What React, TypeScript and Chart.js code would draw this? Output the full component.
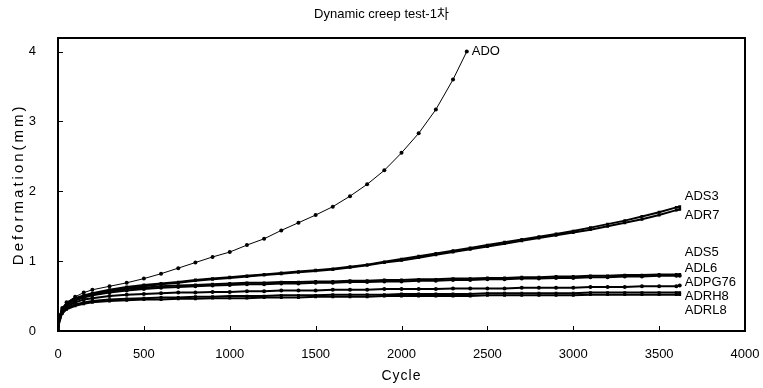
import React, { useEffect, useRef } from "react";
import { Chart, registerables } from "chart.js";

Chart.register(...registerables);

const FONT = '"Liberation Sans", Arial, "Noto Sans CJK KR", sans-serif';

const cycles = [0, 10, 25, 50, 100, 150, 200, 300, 400, 500, 600, 700, 800, 900, 1000, 1100, 1200, 1300, 1400, 1500, 1600, 1700, 1800, 1900, 2000, 2100, 2200, 2300, 2400, 2500, 2600, 2700, 2800, 2900, 3000, 3100, 3200, 3300, 3400, 3500, 3600, 3620];
const adoCycles = [0, 10, 25, 50, 100, 150, 200, 300, 400, 500, 600, 700, 800, 900, 1000, 1100, 1200, 1300, 1400, 1500, 1600, 1700, 1800, 1900, 2000, 2100, 2200, 2300, 2380];

const ADO = [0, 0.22, 0.33, 0.41, 0.49, 0.55, 0.59, 0.64, 0.69, 0.75, 0.82, 0.9, 0.98, 1.06, 1.13, 1.23, 1.32, 1.44, 1.55, 1.66, 1.78, 1.93, 2.1, 2.3, 2.55, 2.83, 3.17, 3.6, 4.0];
const ADS3 = [0, 0.22, 0.32, 0.4, 0.47, 0.51, 0.54, 0.59, 0.63, 0.66, 0.68, 0.7, 0.73, 0.75, 0.77, 0.79, 0.81, 0.83, 0.85, 0.87, 0.89, 0.92, 0.95, 0.99, 1.03, 1.07, 1.11, 1.15, 1.19, 1.23, 1.27, 1.31, 1.35, 1.39, 1.43, 1.48, 1.53, 1.58, 1.64, 1.7, 1.77, 1.78];
const ADR7 = [0, 0.2, 0.3, 0.38, 0.45, 0.49, 0.52, 0.57, 0.61, 0.64, 0.67, 0.69, 0.72, 0.74, 0.76, 0.78, 0.8, 0.82, 0.84, 0.86, 0.88, 0.91, 0.94, 0.98, 1.01, 1.05, 1.09, 1.13, 1.17, 1.21, 1.25, 1.29, 1.33, 1.37, 1.41, 1.45, 1.5, 1.55, 1.6, 1.66, 1.73, 1.74];
const ADS5 = [0, 0.21, 0.31, 0.39, 0.46, 0.5, 0.53, 0.57, 0.6, 0.62, 0.64, 0.65, 0.66, 0.67, 0.68, 0.69, 0.69, 0.7, 0.7, 0.71, 0.71, 0.72, 0.72, 0.73, 0.73, 0.74, 0.74, 0.75, 0.75, 0.76, 0.76, 0.77, 0.77, 0.78, 0.78, 0.79, 0.79, 0.8, 0.8, 0.81, 0.81, 0.81];
const ADL6 = [0, 0.2, 0.3, 0.37, 0.44, 0.48, 0.51, 0.55, 0.58, 0.6, 0.62, 0.63, 0.64, 0.65, 0.66, 0.67, 0.67, 0.68, 0.68, 0.69, 0.69, 0.7, 0.7, 0.71, 0.71, 0.72, 0.72, 0.73, 0.73, 0.74, 0.74, 0.75, 0.75, 0.76, 0.76, 0.77, 0.77, 0.78, 0.78, 0.79, 0.79, 0.79];
const ADPG76 = [0, 0.19, 0.28, 0.35, 0.41, 0.45, 0.47, 0.5, 0.52, 0.53, 0.54, 0.55, 0.55, 0.56, 0.56, 0.57, 0.57, 0.58, 0.58, 0.58, 0.59, 0.59, 0.59, 0.6, 0.6, 0.6, 0.6, 0.61, 0.61, 0.61, 0.61, 0.62, 0.62, 0.62, 0.62, 0.63, 0.63, 0.63, 0.64, 0.64, 0.64, 0.65];
const ADRH8 = [0, 0.18, 0.27, 0.33, 0.38, 0.41, 0.43, 0.45, 0.46, 0.47, 0.48, 0.48, 0.49, 0.49, 0.5, 0.5, 0.5, 0.51, 0.51, 0.51, 0.52, 0.52, 0.52, 0.52, 0.53, 0.53, 0.53, 0.53, 0.53, 0.54, 0.54, 0.54, 0.54, 0.54, 0.54, 0.55, 0.55, 0.55, 0.55, 0.55, 0.55, 0.55];
const ADRL8 = [0, 0.17, 0.25, 0.31, 0.36, 0.39, 0.41, 0.43, 0.44, 0.45, 0.45, 0.46, 0.46, 0.47, 0.47, 0.47, 0.48, 0.48, 0.48, 0.49, 0.49, 0.49, 0.49, 0.5, 0.5, 0.5, 0.5, 0.5, 0.5, 0.51, 0.51, 0.51, 0.51, 0.51, 0.51, 0.52, 0.52, 0.52, 0.52, 0.52, 0.52, 0.52];

const seriesNames = ["ADO", "ADS3", "ADR7", "ADS5", "ADL6", "ADPG76", "ADRH8", "ADRL8"];
const seriesValues = [ADO, ADS3, ADR7, ADS5, ADL6, ADPG76, ADRH8, ADRL8];
const seriesStyles = ["circle", "rect", "rect", "rect", "circle", "circle", "rect", "rect"];
// vertical anchor (in mm) of each end label
const labelValues = [4.0, 1.92, 1.65, 1.13, 0.9, 0.69, 0.5, 0.3];

const xTicks = [0, 500, 1000, 1500, 2000, 2500, 3000, 3500, 4000];
const yTicks = [0, 1, 2, 3, 4];

const chartTitle = "Dynamic creep test-1차";
const xTitle = "Cycle";
const yTitle = "Deformation(mm)";

const framePlugin = {
  id: "frameAndLabels",
  afterDraw(chart: any) {
    const ctx = chart.ctx;
    const a = chart.chartArea;
    const sx = chart.scales.x;
    const sy = chart.scales.y;
    const L = Math.round(a.left);
    const R = Math.round(a.right);
    const T = Math.round(a.top);
    const B = Math.round(a.bottom);
    ctx.save();
    ctx.fillStyle = "#000";
    // frame
    ctx.fillRect(L - 1, T - 1, R - L + 2, 2);
    ctx.fillRect(L - 1, B - 1, R - L + 2, 2);
    ctx.fillRect(L - 1, T - 1, 2, B - T + 2);
    ctx.fillRect(R - 1, T - 1, 2, B - T + 2);
    // inward ticks
    xTicks.forEach((v) => {
      const px = Math.round(sx.getPixelForValue(v));
      ctx.fillRect(px, B - 5, 1, 5);
    });
    yTicks.forEach((v) => {
      const py = Math.round(sy.getPixelForValue(v));
      ctx.fillRect(L, py, 5, 1);
    });
    // end labels
    ctx.font = "13px " + FONT;
    ctx.textAlign = "left";
    ctx.textBaseline = "middle";
    chart.data.datasets.forEach((ds: any, i: number) => {
      const last = ds.data[ds.data.length - 1];
      const px = sx.getPixelForValue(last.x) + 5;
      const py = sy.getPixelForValue(labelValues[i]);
      ctx.fillText(ds.label, px, py);
    });
    // axis titles (wide-spaced, as in the reference)
    ctx.textAlign = "center";
    ctx.font = "14px " + FONT;
    (ctx as any).letterSpacing = "1px";
    ctx.fillText(xTitle, (a.left + a.right) / 2, 376);
    ctx.font = "15px " + FONT;
    (ctx as any).letterSpacing = "3px";
    ctx.translate(19, (a.top + a.bottom) / 2);
    ctx.rotate(-Math.PI / 2);
    ctx.fillText(yTitle, 0, 0);
    ctx.restore();
  },
};

export default function App() {
  const ref = useRef<HTMLCanvasElement | null>(null);
  useEffect(() => {
    document.body.style.margin = "0";
    const canvas = ref.current;
    if (!canvas) return;
    const datasets = seriesNames.map((name, i) => {
      const xs = i === 0 ? adoCycles : cycles;
      return {
        label: name,
        data: seriesValues[i].map((y, j) => ({ x: xs[j], y })),
        borderColor: "#000",
        backgroundColor: "#000",
        borderWidth: i === 0 ? 1 : 2,
        pointRadius: 2,
        pointStyle: seriesStyles[i],
        pointBackgroundColor: "#000",
        pointBorderColor: "#000",
        pointBorderWidth: 0,
        tension: 0,
      };
    });
    const chart = new Chart(canvas, {
      type: "line",
      data: { datasets },
      plugins: [framePlugin],
      options: {
        responsive: false,
        animation: false,
        layout: { padding: { left: 4, right: 4, top: 0, bottom: 0 } },
        plugins: {
          legend: { display: false },
          tooltip: { enabled: false },
          title: {
            display: true,
            text: chartTitle,
            color: "#000",
            font: { size: 13, weight: "normal", family: FONT },
            padding: { top: 7, bottom: 15 },
          },
        },
        scales: {
          x: {
            type: "linear",
            min: 0,
            max: 4000,
            afterBuildTicks: (s: any) => {
              s.ticks = xTicks.map((v) => ({ value: v }));
            },
            afterFit: (s: any) => {
              s.height = 57;
              s.paddingRight = 18;
              s.paddingLeft = 0;
            },
            ticks: {
              padding: 16,
              color: "#000",
              font: { size: 13, family: FONT },
              callback: (v: any) => String(v),
            },
            grid: { display: false, drawTicks: false },
            border: { display: true, color: "#000", width: 1.5 },
            title: { display: false },
          },
          y: {
            type: "linear",
            min: 0,
            max: 4.2,
            afterBuildTicks: (s: any) => {
              s.ticks = yTicks.map((v) => ({ value: v }));
            },
            afterFit: (s: any) => {
              s.width = 54;
            },
            ticks: {
              padding: 22,
              color: "#000",
              font: { size: 13, family: FONT },
              callback: (v: any) => String(v),
            },
            grid: { display: false, drawTicks: false },
            border: { display: true, color: "#000", width: 1.5 },
            title: { display: false },
          },
        },
      } as any,
    });
    return () => chart.destroy();
  }, []);
  return <canvas ref={ref} width={763} height={388} style={{ display: "block" }} />;
}
